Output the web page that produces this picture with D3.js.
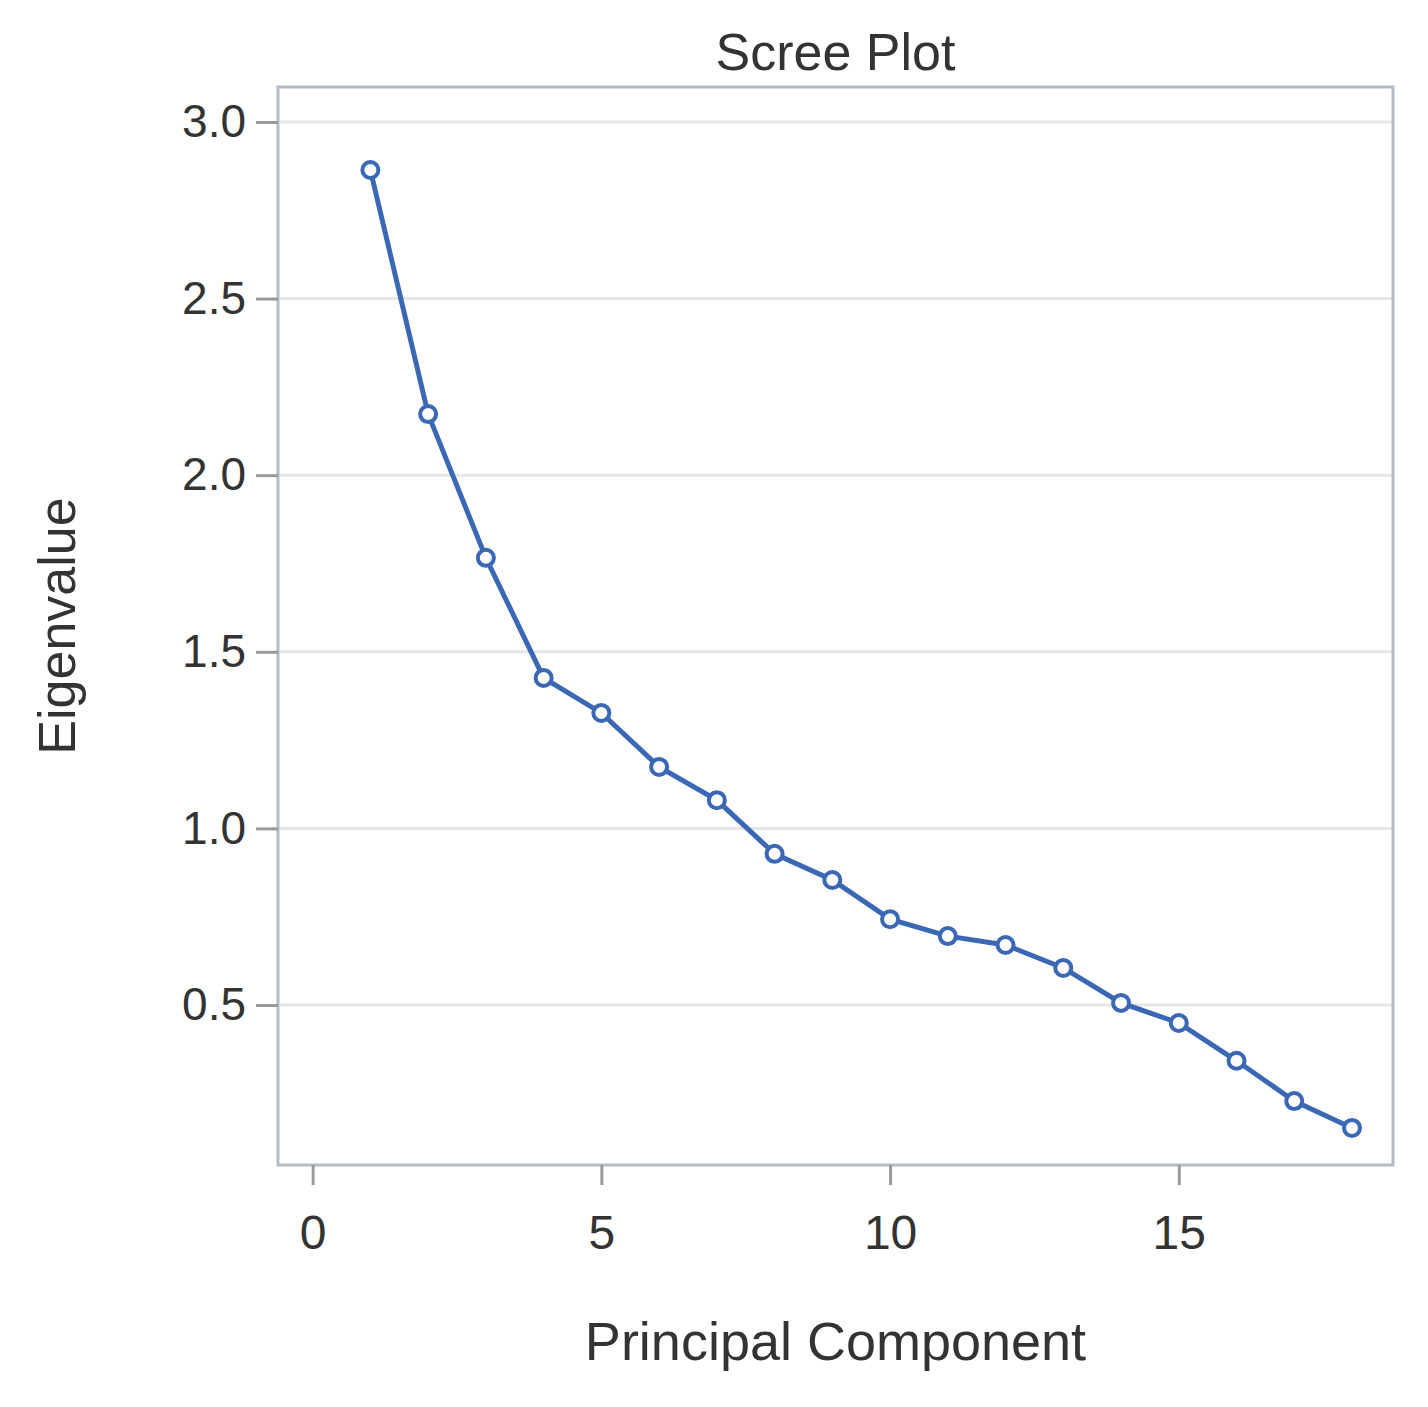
<!DOCTYPE html>
<html><head><meta charset="utf-8">
<script src="https://cdn.jsdelivr.net/npm/d3@7"></script>
<style>body{margin:0;background:#fff}text{font-family:"Liberation Sans",Arial,sans-serif;fill:#333}</style>
</head><body><div id="chart"></div>
<script>
const components = d3.range(1, 19);
const eigenvalues = [2.864, 2.173, 1.766, 1.426, 1.327, 1.174, 1.080, 0.928, 0.854, 0.743, 0.695, 0.670, 0.605, 0.506, 0.449, 0.342, 0.228, 0.152];
const yTicks = [0.5, 1.0, 1.5, 2.0, 2.5, 3.0];
const xTicks = [0, 5, 10, 15];

const W = 1428, H = 1407;
const m = {left: 278, right: 1393, top: 87, bottom: 1165};
const svg = d3.select('#chart').append('svg').attr('width', W).attr('height', H);

const x = d3.scaleLinear().domain([-0.6, 18.71]).range([m.left, m.right]);
const y = d3.scaleLinear().domain([0.047, 3.099]).range([m.bottom, m.top]);

// gridlines
svg.append('g').selectAll('line').data(yTicks).enter().append('line')
    .attr('x1', m.left).attr('x2', m.right)
    .attr('y1', d => y(d)).attr('y2', d => y(d))
    .attr('stroke', '#e6e6e6').attr('stroke-width', 3);

// frame
svg.append('rect').attr('x', m.left).attr('y', m.top)
    .attr('width', m.right - m.left).attr('height', m.bottom - m.top)
    .attr('fill', 'none').attr('stroke', '#b4bcc4').attr('stroke-width', 3);

// y axis
const yAxis = svg.append('g').attr('transform', `translate(${m.left},0)`)
    .call(d3.axisLeft(y).tickValues(yTicks).tickFormat(d3.format('.1f')).tickSize(22).tickPadding(10));
yAxis.select('.domain').remove();
yAxis.selectAll('line').attr('stroke', '#999').attr('stroke-width', 3);
yAxis.selectAll('text').style('font-size', '46px').attr('fill', '#333');

// x axis
const xAxis = svg.append('g').attr('transform', `translate(0,${m.bottom})`)
    .call(d3.axisBottom(x).tickValues(xTicks).tickSize(20).tickPadding(30));
xAxis.select('.domain').remove();
xAxis.selectAll('line').attr('stroke', '#999').attr('stroke-width', 3);
xAxis.selectAll('text').style('font-size', '48px').attr('fill', '#333');

// line + markers
const pts = components.map((c, i) => ({c, v: eigenvalues[i]}));
svg.append('path').datum(pts)
    .attr('d', d3.line().x(d => x(d.c)).y(d => y(d.v)))
    .attr('fill', 'none').attr('stroke', '#3b68b4').attr('stroke-width', 5);
svg.append('g').selectAll('circle').data(pts).enter().append('circle')
    .attr('cx', d => x(d.c)).attr('cy', d => y(d.v)).attr('r', 8)
    .attr('fill', '#fff').attr('stroke', '#3b68b4').attr('stroke-width', 4);

// titles
svg.append('text').attr('x', (m.left + m.right) / 2).attr('y', 70)
    .attr('text-anchor', 'middle').style('font-size', '52px').text('Scree Plot');
svg.append('text').attr('x', (m.left + m.right) / 2).attr('y', 1360)
    .attr('text-anchor', 'middle').style('font-size', '54px').text('Principal Component');
svg.append('text').attr('transform', `translate(75,${(m.top + m.bottom) / 2}) rotate(-90)`)
    .attr('text-anchor', 'middle').style('font-size', '52px').text('Eigenvalue');
</script></body></html>
